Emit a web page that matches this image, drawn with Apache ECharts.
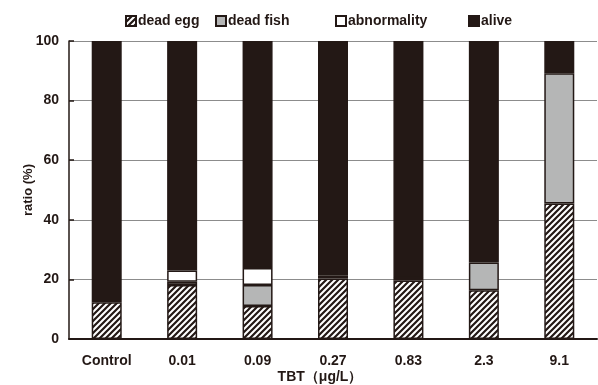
<!DOCTYPE html>
<html><head><meta charset="utf-8">
<script src="https://cdn.jsdelivr.net/npm/echarts@6/dist/echarts.min.js"></script>
<style>html,body{margin:0;padding:0;background:#fff}#c{width:598px;height:385px}</style>
</head><body><div id="c"></div>
<script>
var categories = ['Control', '0.01', '0.09', '0.27', '0.83', '2.3', '9.1'];
var deadEgg = [12.3, 18.1, 11.1, 20.3, 19.6, 16.4, 45.5];
var deadFish = [0, 1.1, 7.0, 0.9, 0.9, 9.3, 43.7];
var abnormality = [0, 3.8, 5.7, 0, 0, 0, 0];
var alive = [87.7, 77.0, 76.2, 78.8, 79.5, 74.3, 10.8];
var yTicks = [0, 20, 40, 60, 80, 100];

var DARK = '#231815';
var FONT = '"Liberation Sans", Arial, sans-serif';

var pc = document.createElement('canvas');
pc.width = 6; pc.height = 6;
var g = pc.getContext('2d');
g.fillStyle = '#fff'; g.fillRect(0, 0, 6, 6);
g.strokeStyle = DARK; g.lineWidth = 2.2;
g.beginPath();
g.moveTo(-1, 7); g.lineTo(7, -1);
g.moveTo(-4, 4); g.lineTo(4, -4);
g.moveTo(2, 10); g.lineTo(10, 2);
g.stroke();
var hatch = { image: pc, repeat: 'repeat' };

function nz(a) { return a.map(function (v) { return v === 0 ? '-' : v; }); }

var names = ['dead egg', 'dead fish', 'abnormality', 'alive'];
var colors = [hatch, '#b5b6b6', '#ffffff', DARK];
var datas = [deadEgg, deadFish, abnormality, alive];
var legendLeft = [120, 210, 330, 463];

var chart = echarts.init(document.getElementById('c'));
chart.setOption({
  animation: false,
  textStyle: { fontFamily: FONT },
  grid: { left: 69, right: 1, top: 41, bottom: 46, outerBoundsMode: 'none', containLabel: false },
  legend: names.map(function (n, i) {
    return {
      data: [n], left: legendLeft[i], top: 9,
      itemWidth: 10, itemHeight: 10, itemGap: 0,
      icon: 'rect',
      textStyle: { fontFamily: FONT, fontWeight: 'bold', fontSize: 14, color: DARK, padding: [0, 0, 0, -3] }
    };
  }),
  xAxis: {
    type: 'category', data: categories,
    name: 'TBT（μg/L）', nameLocation: 'middle', nameGap: 31, nameMoveOverlap: false,
    nameTextStyle: { fontFamily: FONT, fontWeight: 'bold', fontSize: 14, color: DARK, padding: [0, 26, 0, 0] },
    axisLine: { lineStyle: { color: DARK, width: 2 } },
    axisTick: { inside: true, length: 5, lineStyle: { color: DARK, width: 1.5 } },
    axisLabel: { margin: 15, fontFamily: FONT, fontWeight: 'bold', fontSize: 14, color: DARK }
  },
  yAxis: {
    type: 'value', min: 0, max: 100, interval: 20,
    name: 'ratio (%)', nameLocation: 'middle', nameGap: 34, nameRotate: 90, nameMoveOverlap: false,
    nameTextStyle: { fontFamily: FONT, fontWeight: 'bold', fontSize: 13, color: DARK },
    axisLine: { show: true, lineStyle: { color: DARK, width: 1.5 } },
    axisTick: { show: true, inside: true, length: 5, lineStyle: { color: DARK, width: 1.5 } },
    axisLabel: { margin: 10, fontFamily: FONT, fontWeight: 'bold', fontSize: 14, color: DARK,
      formatter: function (v) { return yTicks.indexOf(v) >= 0 ? String(v) : ''; } },
    splitLine: { show: true, lineStyle: { color: '#8c8c8c', width: 1 } }
  },
  series: names.map(function (n, i) {
    return {
      name: n, type: 'bar', stack: 'all', data: nz(datas[i]),
      barWidth: 30,
      itemStyle: { color: colors[i], borderColor: DARK, borderWidth: 1.5 }
    };
  })
});
</script></body></html>
